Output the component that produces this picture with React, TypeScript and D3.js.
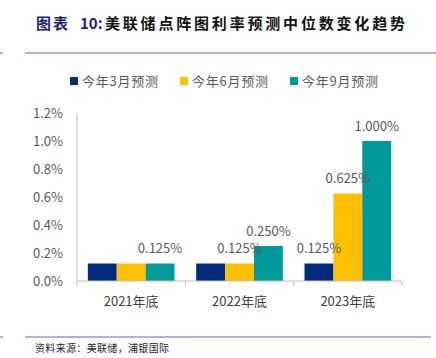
import React from 'react'
import * as d3 from 'd3'

const categories = ['2021年底', '2022年底', '2023年底']
const seriesNames = ['今年3月预测', '今年6月预测', '今年9月预测']
const marchValues = [0.125, 0.125, 0.125]
const juneValues = [0.125, 0.125, 0.625]
const septValues = [0.125, 0.25, 1.0]
const yTicks = [0, 0.2, 0.4, 0.6, 0.8, 1.0, 1.2]
const colors = ['#002A7B', '#FFC000', '#009A9A']

const FONT = '"Noto Sans CJK SC", "Noto Sans", sans-serif'

const App = () => {
  const W = 436
  const H = 358
  const plot = { left: 77, right: 402, top: 113, bottom: 281 }

  const seriesValues = [marchValues, juneValues, septValues]

  const x0 = d3.scaleBand<string>()
    .domain(categories)
    .range([plot.left, plot.right])
    .paddingInner(0.2)
    .paddingOuter(0.1)

  const x1 = d3.scaleBand<string>()
    .domain(seriesNames)
    .range([0, x0.bandwidth()])

  const y = d3.scaleLinear()
    .domain([0, 1.2])
    .range([plot.bottom, plot.top])

  const step = (plot.right - plot.left) / categories.length
  const boundaries = d3.range(categories.length + 1).map(i => plot.left + i * step)

  return (
    <svg width={W} height={H} style={{ position: 'absolute', left: 0, top: 0 }}>
      <rect width={W} height={H} fill="#fff" />

      {/* title */}
      <text x={36} y={29} fontFamily={FONT} fontSize={15} fontWeight="bold" fill="#1F1E78"
        textLength={32} lengthAdjust="spacing">图表</text>
      <text x={80} y={29} fontFamily={FONT} fontSize={15} fontWeight="bold" fill="#1F1E78">10:</text>
      <text x={105} y={29} fontFamily={FONT} fontSize={15} fontWeight="bold" fill="#111"
        textLength={300} lengthAdjust="spacing">美联储点阵图利率预测中位数变化趋势</text>
      <line x1={0} x2={3} y1={53} y2={53} stroke="#9C98C8" strokeWidth={1.5} />
      <line x1={25} x2={W} y1={53} y2={53} stroke="#9C98C8" strokeWidth={1.5} />

      {/* legend */}
      {seriesNames.map((name, i) => {
        const lx = [70, 180, 290][i]
        return (
          <g key={name}>
            <rect x={lx} y={77} width={8} height={8} fill={colors[i]} />
            <text x={lx + 12} y={81} dy="0.35em" fontFamily={FONT} fontSize={13} fill="#595959"
              textLength={76} lengthAdjust="spacing">
              {name}
            </text>
          </g>
        )
      })}

      {/* y axis */}
      <line x1={plot.left} x2={plot.left} y1={plot.top} y2={plot.bottom} stroke="#BFBFBF" />
      {yTicks.map(t => (
        <text key={t} x={63} y={y(t)} dy="0.35em" textAnchor="end" fontFamily={FONT} fontSize={13} fill="#595959">
          {d3.format('.1f')(t)}%
        </text>
      ))}

      {/* bars */}
      {categories.map((cat, ci) => (
        <g key={cat} transform={`translate(${x0(cat)},0)`}>
          {seriesNames.map((s, si) => {
            const v = seriesValues[si][ci]
            return (
              <rect key={s} x={x1(s)} y={y(v)} width={x1.bandwidth()} height={plot.bottom - y(v)} fill={colors[si]} />
            )
          })}
          {seriesNames.map((s, si) => {
            const v = seriesValues[si][ci]
            const next = si < seriesNames.length - 1 ? seriesValues[si + 1][ci] : null
            if (next !== null && next === v) return null
            return (
              <text key={s} x={(x1(s) || 0) + x1.bandwidth() / 2} y={y(v) - 15} dy="0.35em" textAnchor="middle"
                fontFamily={FONT} fontSize={13} fill="#595959">
                {d3.format('.3f')(v)}%
              </text>
            )
          })}
        </g>
      ))}

      {/* x axis */}
      <line x1={plot.left} x2={plot.right} y1={plot.bottom} y2={plot.bottom} stroke="#BFBFBF" />
      {boundaries.map((b, i) => (
        <line key={i} x1={b} x2={b} y1={plot.bottom} y2={plot.bottom + 5} stroke="#BFBFBF" />
      ))}
      {categories.map(cat => (
        <text key={cat} x={(x0(cat) || 0) + x0.bandwidth() / 2} y={301} dy="0.35em" textAnchor="middle"
          fontFamily={FONT} fontSize={13} fill="#404040">
          {cat}
        </text>
      ))}

      {/* source */}
      <line x1={0} x2={3} y1={337} y2={337} stroke="#9C98C8" strokeWidth={1.5} />
      <line x1={25} x2={431} y1={337} y2={337} stroke="#9C98C8" strokeWidth={1.5} />
      <text x={35} y={348} dy="0.35em" fontFamily={FONT} fontSize={10} fill="#222"
        textLength={134} lengthAdjust="spacing">
        资料来源：美联储，浦银国际
      </text>
    </svg>
  )
}

export default App
